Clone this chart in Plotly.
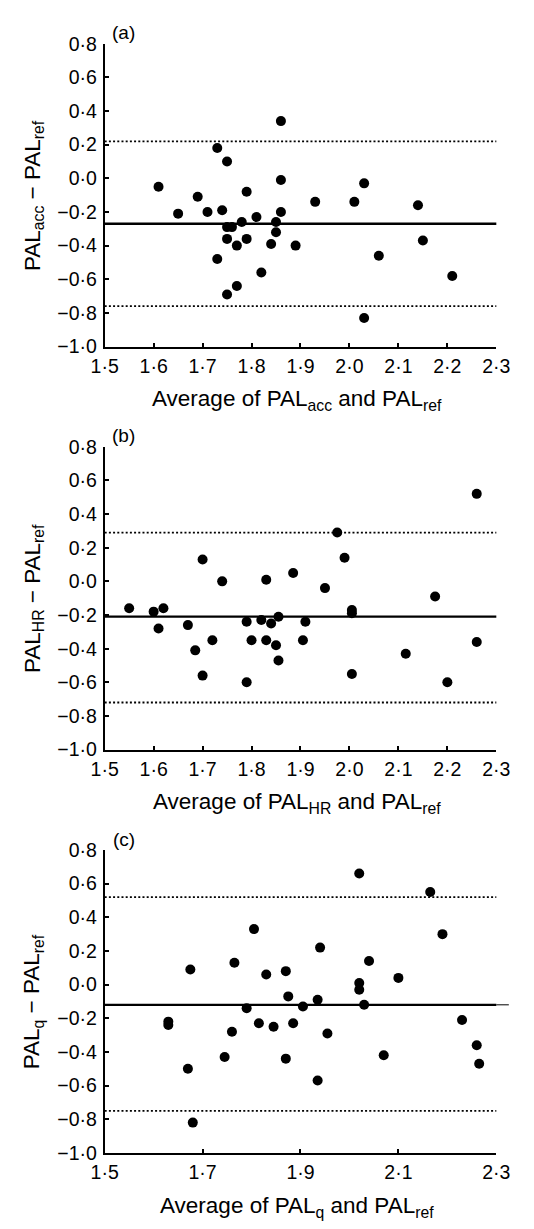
import plotly.graph_objects as go

# ---------------- data ----------------
# Panel (a): accelerometer vs reference
a_avg = [1.61, 1.65, 1.69, 1.71, 1.73, 1.73, 1.74, 1.75, 1.75, 1.76, 1.75, 1.75,
         1.77, 1.77, 1.78, 1.79, 1.79, 1.81, 1.82, 1.84, 1.85, 1.85, 1.86, 1.86,
         1.86, 1.89, 1.93, 2.01, 2.03, 2.03, 2.06, 2.14, 2.15, 2.21]
a_diff = [-0.05, -0.21, -0.11, -0.20, 0.18, -0.48, -0.19, 0.10, -0.29, -0.29, -0.36, -0.69,
          -0.40, -0.64, -0.26, -0.08, -0.36, -0.23, -0.56, -0.39, -0.26, -0.32, 0.34, -0.01,
          -0.20, -0.40, -0.14, -0.14, -0.03, -0.83, -0.46, -0.16, -0.37, -0.58]
a_mean, a_upper, a_lower = -0.27, 0.22, -0.76

# Panel (b): heart rate vs reference
b_avg = [1.55, 1.60, 1.62, 1.61, 1.67, 1.685, 1.70, 1.70, 1.72, 1.74, 1.79, 1.79,
         1.80, 1.82, 1.83, 1.83, 1.84, 1.85, 1.855, 1.855, 1.885, 1.905, 1.91, 1.95,
         1.975, 1.99, 2.005, 2.005, 2.005, 2.115, 2.175, 2.20, 2.26, 2.26]
b_diff = [-0.16, -0.18, -0.16, -0.28, -0.26, -0.41, -0.56, 0.13, -0.35, 0.00, -0.24, -0.60,
          -0.35, -0.23, 0.01, -0.35, -0.25, -0.38, -0.21, -0.47, 0.05, -0.35, -0.24, -0.04,
          0.29, 0.14, -0.17, -0.19, -0.55, -0.43, -0.09, -0.60, 0.52, -0.36]
b_mean, b_upper, b_lower = -0.21, 0.29, -0.72

# Panel (c): questionnaire vs reference
c_avg = [1.63, 1.63, 1.67, 1.675, 1.68, 1.745, 1.76, 1.765, 1.79, 1.805, 1.815, 1.83,
         1.845, 1.87, 1.87, 1.875, 1.885, 1.905, 1.935, 1.935, 1.94, 1.955, 2.02, 2.02,
         2.02, 2.03, 2.04, 2.07, 2.10, 2.165, 2.19, 2.23, 2.26, 2.265]
c_diff = [-0.22, -0.24, -0.50, 0.09, -0.82, -0.43, -0.28, 0.13, -0.14, 0.33, -0.23, 0.06,
          -0.25, 0.08, -0.44, -0.07, -0.23, -0.13, -0.09, -0.57, 0.22, -0.29, 0.01, -0.03,
          0.66, -0.12, 0.14, -0.42, 0.04, 0.55, 0.30, -0.21, -0.36, -0.47]
c_mean, c_upper, c_lower = -0.12, 0.52, -0.75

# ticks
y_tickvals = [0.8, 0.6, 0.4, 0.2, 0.0, -0.2, -0.4, -0.6, -0.8, -1.0]
y_ticktext = ["0·8", "0·6", "0·4", "0·2", "0·0", "−0·2", "−0·4", "−0·6", "−0·8", "−1·0"]
x_tickvals_ab = [1.5, 1.6, 1.7, 1.8, 1.9, 2.0, 2.1, 2.2, 2.3]
x_ticktext_ab = ["1·5", "1·6", "1·7", "1·8", "1·9", "2·0", "2·1", "2·2", "2·3"]
x_tickvals_c = [1.5, 1.7, 1.9, 2.1, 2.3]
x_ticktext_c = ["1·5", "1·7", "1·9", "2·1", "2·3"]

panel_labels = ["(a)", "(b)", "(c)"]
x_titles = ["Average of PAL<sub>acc</sub> and PAL<sub>ref</sub>",
            "Average of PAL<sub>HR</sub> and PAL<sub>ref</sub>",
            "Average of PAL<sub>q</sub> and PAL<sub>ref</sub>"]
y_titles = ["PAL<sub>acc</sub> − PAL<sub>ref</sub>",
            "PAL<sub>HR</sub> − PAL<sub>ref</sub>",
            "PAL<sub>q</sub> − PAL<sub>ref</sub>"]

# ---------------- layout geometry ----------------
W, H = 534, 1229
FONT = "Liberation Sans, Arial, Helvetica, sans-serif"
x_dom = [95.7 / W, 509 / W]
panel_tops = [33.3, 443.7, 854.3]
panel_h = 308.4

fig = go.Figure()

panels = [
    (a_avg, a_diff, a_mean, a_upper, a_lower, x_tickvals_ab, x_ticktext_ab),
    (b_avg, b_diff, b_mean, b_upper, b_lower, x_tickvals_ab, x_ticktext_ab),
    (c_avg, c_diff, c_mean, c_upper, c_lower, x_tickvals_c, x_ticktext_c),
]

layout_axes = {}
annotations = []
shapes = []
for i, (xs, ys, m, up, lo, xtv, xtt) in enumerate(panels):
    n = "" if i == 0 else str(i + 1)
    xa, ya = "x" + n, "y" + n
    top = panel_tops[i]
    bot = top + panel_h
    y_dom = [1 - bot / H, 1 - top / H]

    fig.add_trace(go.Scatter(
        x=xs, y=ys, mode="markers", xaxis=xa, yaxis=ya,
        marker=dict(color="black", size=10, line=dict(width=0)),
        showlegend=False, hoverinfo="x+y",
    ))

    layout_axes["xaxis" + n] = dict(
        domain=x_dom, range=[1.5, 2.3], anchor=ya,
        showline=True, linewidth=1.7, linecolor="black",
        ticks="inside", ticklen=4, tickwidth=1.5, tickcolor="black",
        tickvals=xtv, ticktext=xtt,
        tickfont=dict(family=FONT, size=19.5, color="black"),
        showgrid=False, zeroline=False, fixedrange=True,
        ticklabelstandoff=1,
    )
    layout_axes["yaxis" + n] = dict(
        domain=y_dom, range=[-1.0, 0.8], anchor=xa,
        showline=True, linewidth=1.7, linecolor="black",
        ticks="inside", ticklen=4, tickwidth=1.5, tickcolor="black",
        tickvals=y_tickvals, ticktext=y_ticktext,
        tickfont=dict(family=FONT, size=19.5, color="black"),
        showgrid=False, zeroline=False, fixedrange=True,
        ticklabelstandoff=2,
    )

    # bias line and limits of agreement
    shapes.append(dict(type="line", xref=xa + " domain", yref=ya,
                       x0=0, x1=1, y0=m, y1=m,
                       line=dict(color="black", width=2.3)))
    for v in (up, lo):
        shapes.append(dict(type="line", xref=xa + " domain", yref=ya,
                           x0=0, x1=1, y0=v, y1=v,
                           line=dict(color="black", width=1.8, dash="2px,2.2px")))

    # labels
    annotations.append(dict(text=panel_labels[i], xref="paper", yref="paper",
                            x=116 / W, y=1 - (top - 11) / H,
                            xanchor="center", yanchor="middle", showarrow=False,
                            font=dict(family=FONT, size=19, color="black")))
    annotations.append(dict(text=x_titles[i], xref="paper", yref="paper",
                            x=299 / W, y=1 - (top + 363) / H,
                            xanchor="center", yanchor="middle", showarrow=False,
                            font=dict(family=FONT, size=22.5, color="black")))
    annotations.append(dict(text=y_titles[i], xref="paper", yref="paper",
                            x=21 / W, y=1 - (top + panel_h / 2) / H,
                            xanchor="center", yanchor="middle", showarrow=False,
                            textangle=-90,
                            font=dict(family=FONT, size=22.5, color="black")))

# short thin extension of the bias line in panel (c)
shapes.append(dict(type="line", xref="x3 domain", yref="y3",
                   x0=1.0, x1=1.032, y0=c_mean, y1=c_mean,
                   line=dict(color="black", width=1)))

fig.update_layout(
    width=W, height=H,
    margin=dict(l=0, r=0, t=0, b=0),
    paper_bgcolor="white", plot_bgcolor="white",
    font=dict(family=FONT, color="black"),
    annotations=annotations, shapes=shapes,
    showlegend=False,
    **layout_axes,
)

fig.write_html("out.html", config={"displayModeBar": False},
               post_script="document.body.style.margin='0';document.body.style.overflow='hidden';")
